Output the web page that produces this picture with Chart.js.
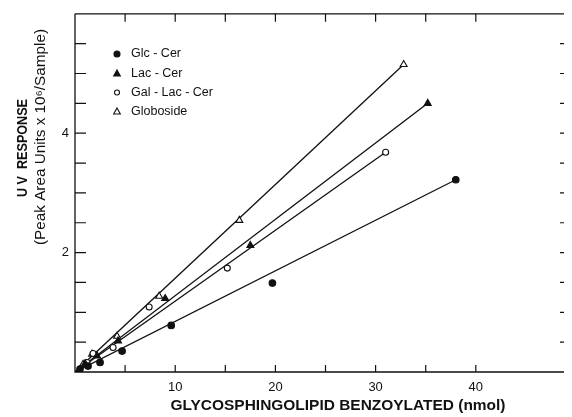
<!DOCTYPE html>
<html>
<head>
<meta charset="utf-8">
<script src="https://cdn.jsdelivr.net/npm/chart.js@4"></script>
<style>
  html, body { margin: 0; padding: 0; background: #fff; }
  #wrap { width: 572px; height: 417px; }
</style>
</head>
<body>
<div id="wrap"><canvas id="c" width="572" height="417"></canvas></div>
<script>
// ---- data ----
const seriesNames = ['Glc-Cer', 'Lac-Cer', 'Gal-Lac-Cer', 'Globoside'];
const legendLabels = ['Glc - Cer', 'Lac - Cer', 'Gal - Lac - Cer', 'Globoside'];

const glcX = [0.5, 1.3, 2.5, 4.7, 9.6, 19.7, 38.0];
const glcY = [0.05, 0.10, 0.16, 0.35, 0.78, 1.49, 3.22];

const lacX = [1.0, 2.2, 4.3, 9.0, 17.5, 35.2];
const lacY = [0.14, 0.27, 0.52, 1.23, 2.12, 4.50];

const galX = [1.2, 1.8, 3.8, 7.4, 15.2, 31.0];
const galY = [0.16, 0.31, 0.41, 1.09, 1.74, 3.68];

const gloX = [0.8, 1.7, 4.2, 8.4, 16.4, 32.8];
const gloY = [0.13, 0.30, 0.60, 1.27, 2.54, 5.15];

// fitted lines (start, end)
const glcLineX = [0, 38.0], glcLineY = [0, 3.22];
const lacLineX = [0, 35.2], lacLineY = [0, 4.50];
const galLineX = [0, 31.0], galLineY = [0, 3.68];
const gloLineX = [0, 32.8], gloLineY = [0, 5.15];

const xTickLabels = [10, 20, 30, 40];
const yTickLabels = [2, 4];

const xTitle = 'GLYCOSPHINGOLIPID BENZOYLATED (nmol)';
const yTitle1 = 'U V  RESPONSE';
const yTitle2 = '(Peak Area Units x 10\u2076/Sample)';

// ---- build datasets ----
const pts = (xs, ys) => xs.map((x, i) => ({ x: x, y: ys[i] }));
const INK = '#111';

const styles = [
  { pointStyle: 'circle', fill: INK, radius: 3.3 },
  { pointStyle: 'triangle', fill: INK, radius: 4 },
  { pointStyle: 'circle', fill: '#fff', radius: 3 },
  { pointStyle: 'triangle', fill: '#fff', radius: 4 }
];
const pointData = [pts(glcX, glcY), pts(lacX, lacY), pts(galX, galY), pts(gloX, gloY)];
const lineData = [pts(glcLineX, glcLineY), pts(lacLineX, lacLineY), pts(galLineX, galLineY), pts(gloLineX, gloLineY)];

const datasets = [];
seriesNames.forEach((n, i) => {
  datasets.push({
    label: n,
    data: pointData[i],
    showLine: false,
    pointStyle: styles[i].pointStyle,
    pointRadius: styles[i].radius,
    pointBackgroundColor: styles[i].fill,
    pointBorderColor: INK,
    pointBorderWidth: 1.1,
    order: 1
  });
});
seriesNames.forEach((n, i) => {
  datasets.push({
    label: n + ' fit',
    data: lineData[i],
    showLine: true,
    borderColor: INK,
    borderWidth: 1.3,
    pointRadius: 0,
    pointHoverRadius: 0,
    fill: false,
    order: 2
  });
});

// ---- plugins ----
const framePlugin = {
  id: 'frame',
  afterDraw(chart) {
    const { ctx, chartArea: a, scales } = chart;
    ctx.save();
    ctx.strokeStyle = INK;
    ctx.lineWidth = 1.3;
    ctx.beginPath();
    ctx.moveTo(a.left, a.top);
    ctx.lineTo(a.right, a.top);
    ctx.moveTo(a.left, a.top);
    ctx.lineTo(a.left, a.bottom);
    ctx.lineTo(a.right, a.bottom);
    ctx.stroke();
    // inward ticks
    ctx.lineWidth = 1.2;
    ctx.beginPath();
    scales.x.ticks.forEach(t => {
      if (t.value <= 0 || Math.abs(t.value / 5 - Math.round(t.value / 5)) > 1e-6) return;
      const px = scales.x.getPixelForValue(t.value);
      ctx.moveTo(px, a.bottom); ctx.lineTo(px, a.bottom - 7);
      ctx.moveTo(px, a.top); ctx.lineTo(px, a.top + 8);
    });
    scales.y.ticks.forEach(t => {
      if (t.value <= 0 || t.value >= 6) return;
      const py = scales.y.getPixelForValue(t.value);
      ctx.moveTo(a.left, py); ctx.lineTo(a.left + 11, py);
      ctx.moveTo(a.right, py); ctx.lineTo(a.right - 4, py);
    });
    ctx.stroke();
    ctx.restore();
  }
};

function fitText(ctx, text, x, y, width) {
  const w = ctx.measureText(text).width;
  ctx.save();
  ctx.translate(x, y);
  ctx.scale(width / w, 1);
  ctx.fillText(text, 0, 0);
  ctx.restore();
}

const textPlugin = {
  id: 'texts',
  afterDraw(chart) {
    const { ctx } = chart;
    ctx.save();
    ctx.fillStyle = INK;
    ctx.textAlign = 'center';
    ctx.textBaseline = 'middle';
    // x title
    ctx.font = 'bold 14px "Liberation Sans", Arial, sans-serif';
    fitText(ctx, xTitle, 338, 406, 335);
    // y titles
    ctx.save();
    ctx.translate(23, 148);
    ctx.rotate(-Math.PI / 2);
    ctx.font = 'bold 14px "Liberation Sans", Arial, sans-serif';
    fitText(ctx, yTitle1, 0, 0, 98);
    ctx.restore();
    ctx.save();
    ctx.translate(41, 137);
    ctx.rotate(-Math.PI / 2);
    ctx.font = '14px "Liberation Sans", Arial, sans-serif';
    fitText(ctx, yTitle2, 0, 0, 216);
    ctx.restore();
    ctx.restore();
  }
};

const legendPlugin = {
  id: 'innerLegend',
  afterDraw(chart) {
    const { ctx } = chart;
    const rows = [54, 73.5, 92.5, 111.5];
    ctx.save();
    ctx.font = '12.5px "Liberation Sans", Arial, sans-serif';
    ctx.textBaseline = 'middle';
    ctx.textAlign = 'left';
    legendLabels.forEach((lab, i) => {
      const cx = 117, cy = rows[i];
      const s = styles[i];
      ctx.fillStyle = s.fill;
      ctx.strokeStyle = INK;
      ctx.lineWidth = 1.1;
      ctx.beginPath();
      if (s.pointStyle === 'circle') {
        ctx.arc(cx, cy, i === 0 ? 3 : 2.5, 0, Math.PI * 2);
      } else {
        const r = 3.5;
        ctx.moveTo(cx, cy - r);
        ctx.lineTo(cx + r * 0.95, cy + r * 0.7);
        ctx.lineTo(cx - r * 0.95, cy + r * 0.7);
        ctx.closePath();
      }
      ctx.fill();
      ctx.stroke();
      ctx.fillStyle = INK;
      ctx.fillText(lab, 131, cy);
    });
    ctx.restore();
  }
};

new Chart(document.getElementById('c'), {
  type: 'scatter',
  data: { datasets },
  options: {
    responsive: false,
    animation: false,
    events: [],
    layout: { padding: { left: 0, top: 12, right: 0, bottom: 0 } },
    plugins: { legend: { display: false }, tooltip: { enabled: false } },
    scales: {
      x: {
        type: 'linear',
        min: 0,
        max: 48.8,
        grid: { display: false, drawTicks: false },
        border: { display: false },
        afterFit(s) { s.height = 45; },
        ticks: {
          stepSize: 5,
          padding: 8,
          color: INK,
          font: { size: 13, family: '"Liberation Sans", Arial, sans-serif' },
          maxRotation: 0,
          autoSkip: false,
          callback: v => (xTickLabels.includes(v) ? String(v) : '')
        }
      },
      y: {
        type: 'linear',
        min: 0,
        max: 6,
        grid: { display: false, drawTicks: false },
        border: { display: false },
        afterFit(s) { s.width = 75; },
        ticks: {
          stepSize: 0.5,
          padding: 6,
          color: INK,
          font: { size: 13, family: '"Liberation Sans", Arial, sans-serif' },
          autoSkip: false,
          callback: v => (yTickLabels.includes(v) ? String(v) : '')
        }
      }
    }
  },
  plugins: [framePlugin, textPlugin, legendPlugin]
});
</script>
</body>
</html>
